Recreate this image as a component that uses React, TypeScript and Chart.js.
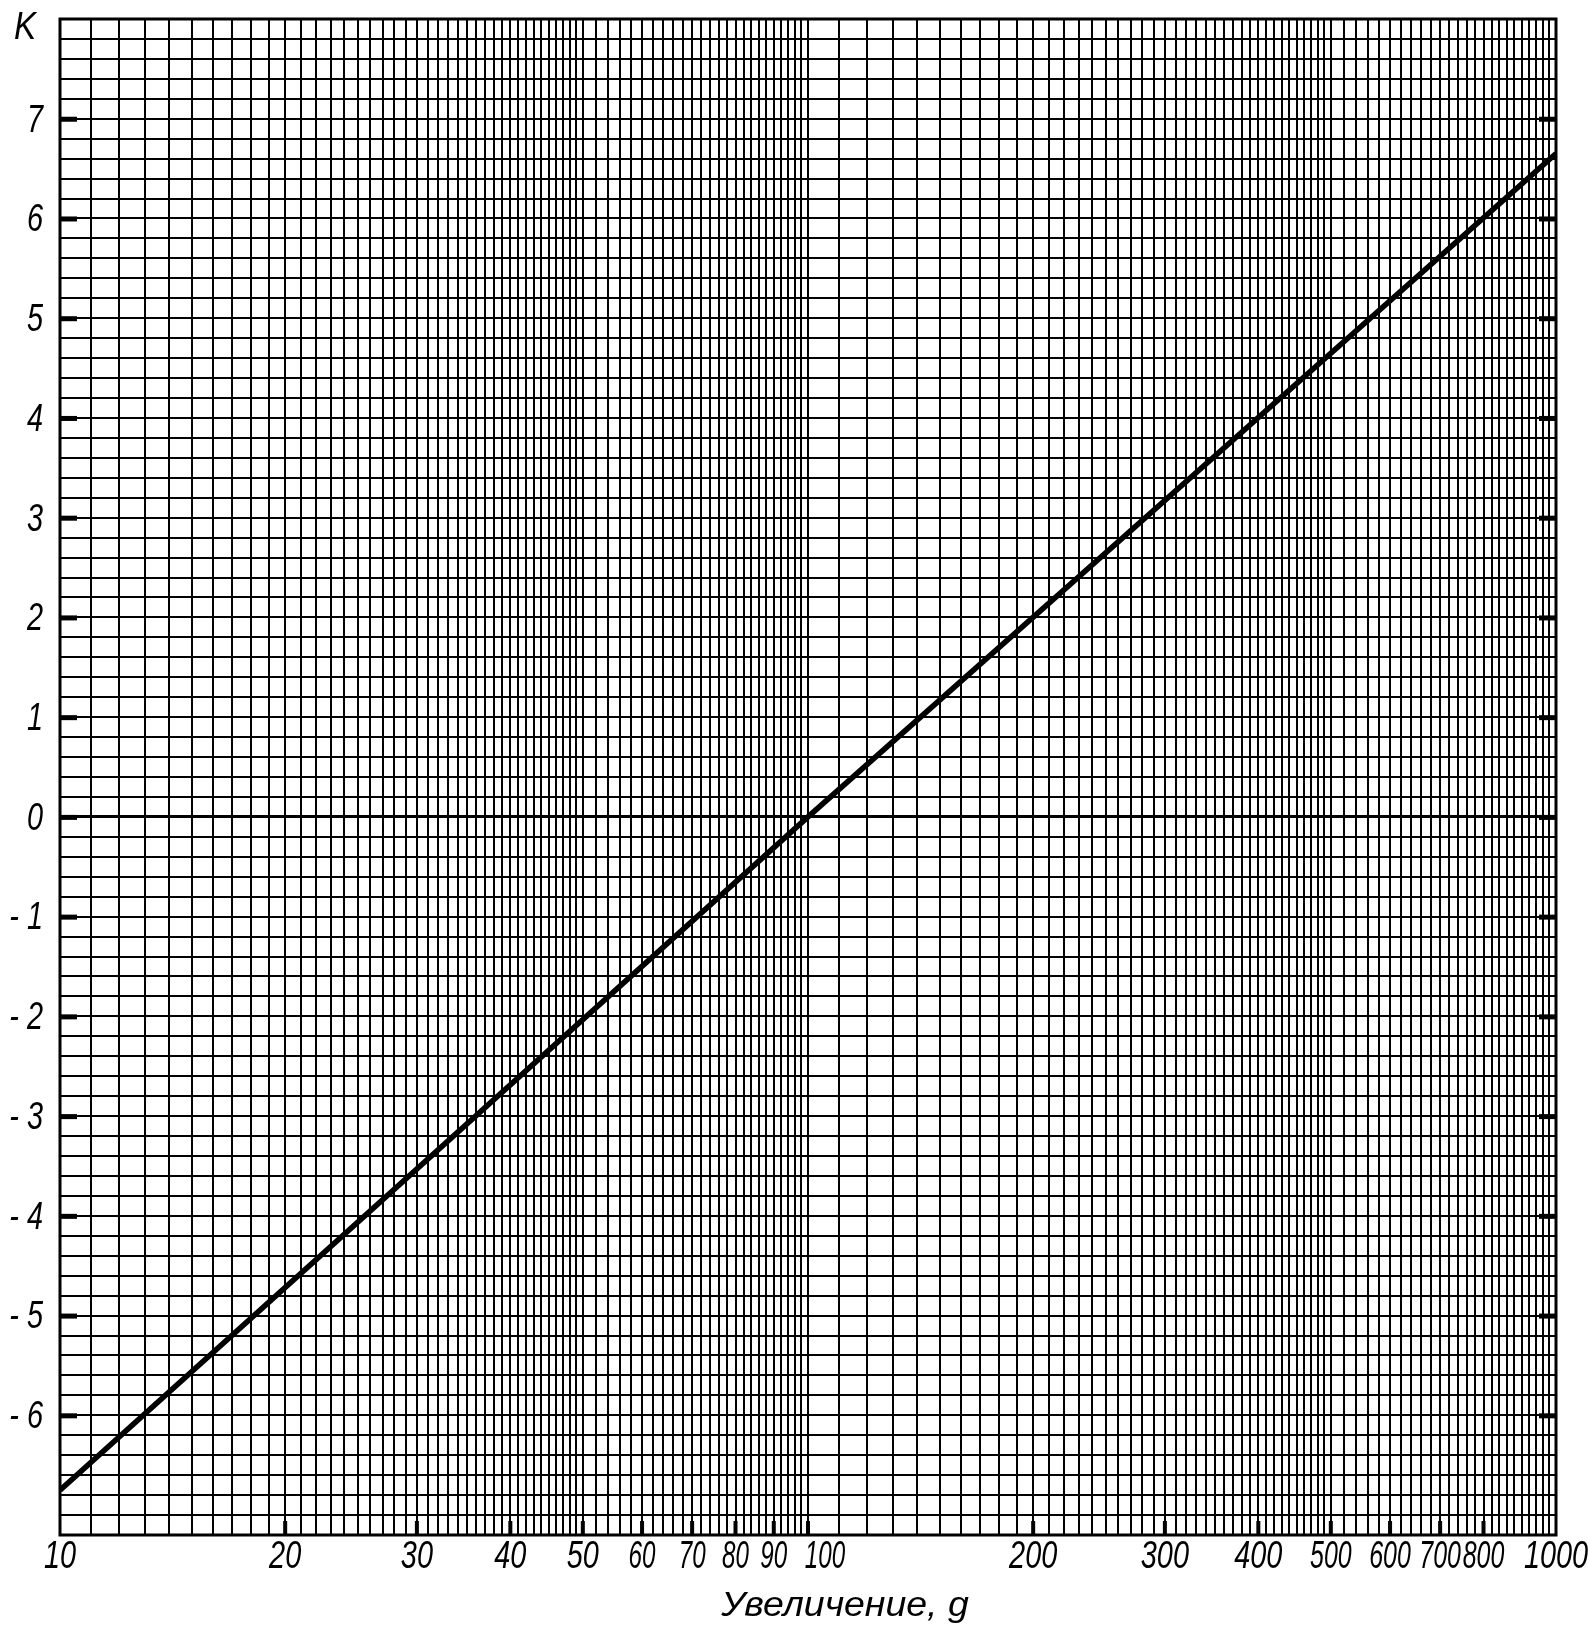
import React, { useEffect, useRef } from 'react';
import { Chart, registerables } from 'chart.js';

Chart.register(...registerables);

// Data: the straight calibration line K(g), read at three points
const LINE_G = [10, 100, 1000];
const LINE_K = [-6.75, 0, 6.65];

// Labelled ticks
const X_LABELS = [10, 20, 30, 40, 50, 60, 70, 80, 90, 100, 200, 300, 400, 500, 600, 700, 800, 1000];
const X_CROWDED = [60, 70, 80, 90, 100];
const X_TIGHT = [500, 600, 700, 800];
const Y_LABELS = [-6, -5, -4, -3, -2, -1, 0, 1, 2, 3, 4, 5, 6, 7];

// Graph-paper rulings: [from, to, step]
const X_GRID_SEGMENTS = [
  [10, 50, 1],
  [50, 100, 2],
  [100, 500, 10],
  [500, 1000, 20],
];
const X_MIN = 10;
const X_MAX = 1000;
const Y_MIN = -7.2;
const Y_MAX = 8;
const Y_GRID_STEP = 0.2;

const X_TITLE = 'Увеличение, g';
const Y_TITLE = 'K';

const FONT = "'Liberation Sans', 'DejaVu Sans', sans-serif";

function buildXGrid(): number[] {
  const out: number[] = [];
  for (const [from, to, step] of X_GRID_SEGMENTS) {
    for (let v = from; v < to - 1e-9; v += step) out.push(Math.round(v * 1000) / 1000);
  }
  out.push(X_MAX);
  return out;
}

function buildYGrid(): number[] {
  const out: number[] = [];
  const n = Math.round((Y_MAX - Y_MIN) / Y_GRID_STEP);
  for (let i = 0; i <= n; i++) out.push(Math.round((Y_MIN + i * Y_GRID_STEP) * 10) / 10);
  return out;
}

function drawText(ctx: CanvasRenderingContext2D, text: string, x: number, y: number, sx: number, align: CanvasTextAlign) {
  ctx.save();
  ctx.translate(x, y);
  ctx.scale(sx, 1);
  ctx.textAlign = align;
  ctx.fillText(text, 0, 0);
  ctx.restore();
}

const decorPlugin = {
  id: 'decor',
  afterDraw(chart: any) {
    const { ctx, chartArea: a, scales } = chart;
    const xs = scales.x;
    const ys = scales.y;
    ctx.save();
    ctx.fillStyle = '#000';
    // short heavy marks at labelled x values (bottom)
    X_LABELS.forEach((v) => {
      if (v > X_MIN && v < X_MAX) {
        const px = xs.getPixelForValue(v);
        ctx.fillRect(px - 2, a.bottom - 14, 4, 14);
      }
    });
    // short heavy marks at integer K values (left and right)
    Y_LABELS.forEach((v) => {
      const py = ys.getPixelForValue(v);
      ctx.fillRect(a.left, py - 2, 17, 5);
      ctx.fillRect(a.right - 17, py - 2, 17, 5);
    });
    // frame
    ctx.lineWidth = 3;
    ctx.strokeStyle = '#000';
    ctx.strokeRect(a.left, a.top, a.right - a.left, a.bottom - a.top);

    // tick labels, placed through the scales
    ctx.textBaseline = 'middle';
    ctx.font = `italic 39px ${FONT}`;
    X_LABELS.forEach((v) => {
      const px = xs.getPixelForValue(v) + (v === 100 ? 17 : 0);
      const sx = X_CROWDED.includes(v) ? 0.62 : X_TIGHT.includes(v) ? 0.64 : 0.74;
      drawText(ctx, String(v), px, a.bottom + 22, sx, 'center');
    });
    Y_LABELS.forEach((v) => {
      const py = ys.getPixelForValue(v) + 2;
      const t = v < 0 ? `- ${Math.abs(v)}` : String(v);
      drawText(ctx, t, a.left - 17, py, 0.74, 'right');
    });

    // axis titles
    drawText(ctx, Y_TITLE, a.left - 35, a.top + 9, 0.85, 'center');
    ctx.font = `italic 35px ${FONT}`;
    drawText(ctx, X_TITLE, (a.left + a.right) / 2 + 37, a.bottom + 71, 1.07, 'center');
    ctx.restore();
  },
};

export default function App() {
  const canvasRef = useRef<HTMLCanvasElement | null>(null);

  useEffect(() => {
    const canvas = canvasRef.current;
    if (!canvas) return;
    const xGrid = buildXGrid();
    const yGrid = buildYGrid();

    const chart = new Chart(canvas, {
      type: 'line',
      data: {
        datasets: [
          {
            data: LINE_G.map((g, i) => ({ x: g, y: LINE_K[i] })),
            borderColor: '#000',
            borderWidth: 5.5,
            pointRadius: 0,
            fill: false,
            tension: 0,
          },
        ],
      },
      options: {
        animation: false,
        responsive: false,
        devicePixelRatio: 1,
        layout: { padding: { top: 19, right: 33, left: 0, bottom: 0 } },
        plugins: {
          legend: { display: false },
          tooltip: { enabled: false },
        },
        scales: {
          x: {
            type: 'logarithmic',
            min: X_MIN,
            max: X_MAX,
            afterBuildTicks: (scale: any) => {
              scale.ticks = xGrid.map((v) => ({ value: v }));
            },
            afterFit: (scale: any) => {
              scale.height = 106;
              scale.paddingLeft = 0;
              scale.paddingRight = 0;
            },
            grid: {
              color: '#000',
              lineWidth: 2,
              drawTicks: false,
            },
            border: { display: false },
            ticks: { display: false, autoSkip: false, maxRotation: 0, minRotation: 0 },
          },
          y: {
            type: 'linear',
            min: Y_MIN,
            max: Y_MAX,
            afterBuildTicks: (scale: any) => {
              scale.ticks = yGrid.map((v) => ({ value: v }));
            },
            afterFit: (scale: any) => {
              scale.width = 60;
              scale.paddingTop = 0;
              scale.paddingBottom = 0;
            },
            grid: {
              color: '#000',
              lineWidth: (c: any) => (c.tick && Math.abs(c.tick.value) < 1e-6 ? 3 : 2),
              drawTicks: false,
            },
            border: { display: false },
            ticks: { display: false, autoSkip: false },
          },
        },
      },
      plugins: [decorPlugin],
    } as any);

    return () => {
      chart.destroy();
    };
  }, []);

  return (
    <div style={{ position: 'absolute', left: 0, top: 0, width: 1589, height: 1641, background: '#fff' }}>
      <canvas ref={canvasRef} width={1589} height={1641} style={{ display: 'block' }} />
    </div>
  );
}
